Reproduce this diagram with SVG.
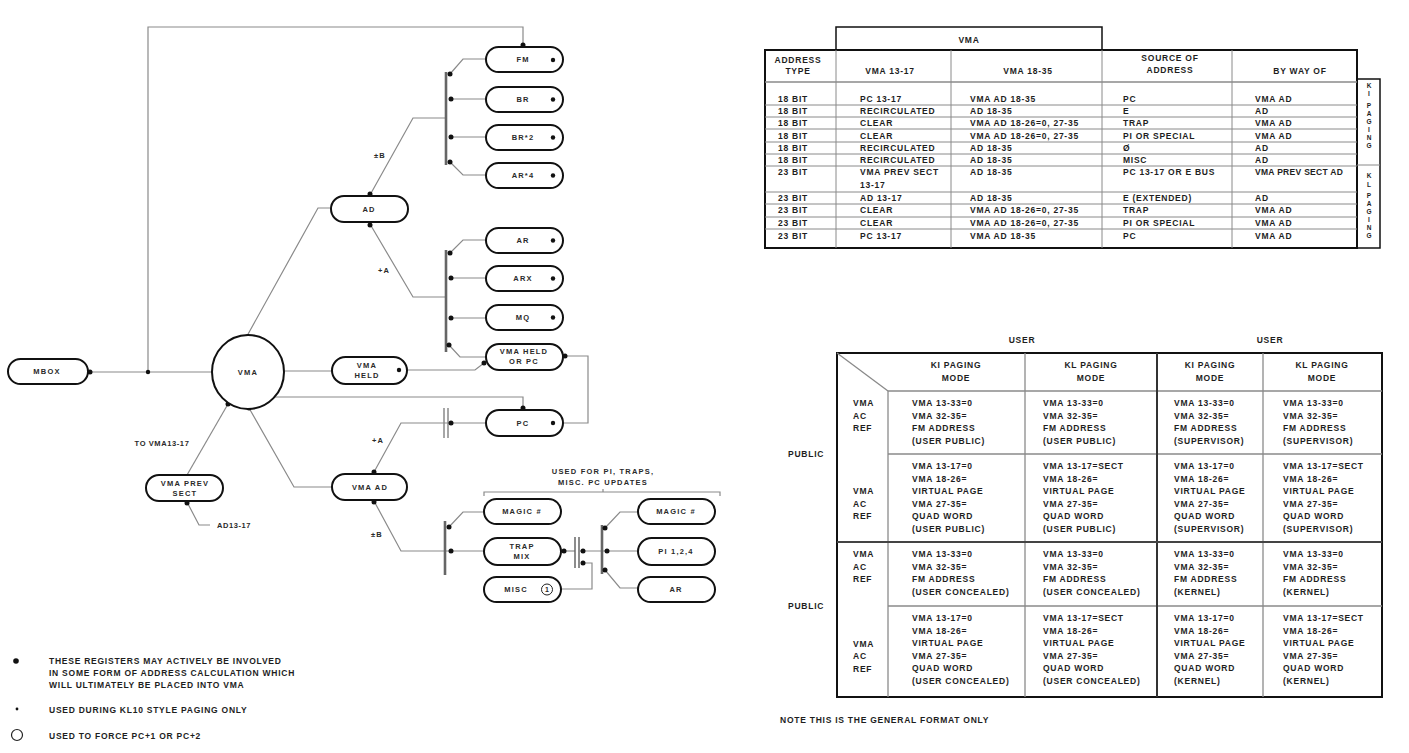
<svg xmlns="http://www.w3.org/2000/svg" width="1409" height="753" viewBox="0 0 1409 753">
<style>
text{font-family:"Liberation Sans",Arial,sans-serif;font-weight:bold;fill:#1e1e1e}
.n{font-size:7.5px;letter-spacing:1.2px;text-anchor:middle;fill:#2a2a2a}
.pill{fill:#fff;stroke:#111;stroke-width:2}
.w{fill:none;stroke:#8a8a8a;stroke-width:1.2}
.bus{stroke:#666;stroke-width:2.6;fill:none}
.d{fill:#111}
.t{font-size:8.5px;letter-spacing:0.75px}
.c{text-anchor:middle}
.g{stroke:#8a8a8a;stroke-width:1;fill:none}
.b{stroke:#111;stroke-width:2;fill:none}
.v{font-size:6.5px;text-anchor:middle}
</style>
<rect width="1409" height="753" fill="#fff"/>

<g id="connectors">
  <path class="w" d="M148,372 V27 H523 V46"/>
  <path class="w" d="M212,372 H88"/>
  <path class="w" d="M284,371 H332"/>
  <path class="w" d="M247,336 L318,208 H331"/>
  <path class="w" d="M370,195 L413,118 H446"/>
  <line class="bus" x1="446" y1="72" x2="446" y2="165"/>
  <path class="w" d="M450,74 L463,59 H486"/>
  <path class="w" d="M450,99 H486"/>
  <path class="w" d="M450,137 H486"/>
  <path class="w" d="M450,162 L463,175 H486"/>
  <path class="w" d="M370,224 L413,297 H446"/>
  <line class="bus" x1="446" y1="250" x2="446" y2="352"/>
  <path class="w" d="M450,253 L463,240 H486"/>
  <path class="w" d="M450,278 H486"/>
  <path class="w" d="M450,318 H486"/>
  <path class="w" d="M449,345 L460,357 H486"/>
  <path class="w" d="M407,370 H475 L484,363"/>
  <path class="w" d="M564,356 H588 V423 H563"/>
  <path class="w" d="M270,397 H523 V409"/>
  <path class="w" d="M486,423 H401 L374,472"/>
  <line class="g" x1="444" y1="408" x2="444" y2="438" style="stroke-width:1.5"/>
  <line class="g" x1="448" y1="408" x2="448" y2="438" style="stroke-width:1.5"/>
  <path class="w" d="M332,487 H294 L249,408"/>
  <path class="w" d="M187,475 L228,404"/>
  <path class="w" d="M187,502 L199,525 H210"/>
  <path class="w" d="M374,501 L401,551 H484"/>
  <line class="bus" x1="445" y1="521" x2="445" y2="575"/>
  <path class="w" d="M449,527 L463,512 H484"/>
  <path class="w" d="M561,551 H575"/>
  <line x1="575" y1="537" x2="575" y2="568" stroke="#666" stroke-width="1.5"/>
  <line x1="579" y1="537" x2="579" y2="568" stroke="#666" stroke-width="1.5"/>
  <path class="w" d="M579,551 H638"/>
  <path class="w" d="M561,589 H592 V563 H583"/>
  <line class="bus" x1="602" y1="525" x2="602" y2="574"/>
  <path class="w" d="M605,528 L620,512 H638"/>
  <path class="w" d="M605,570 L620,588 H638"/>
  <path class="w" d="M484,496 V492 H720 V496 M603,492 V489"/>
  <g class="d">
    <circle cx="523" cy="45" r="2.5"/><circle cx="90" cy="372" r="2.5"/><circle cx="148" cy="372" r="2.2"/>
    <circle cx="247" cy="337" r="2.5"/><circle cx="370" cy="194" r="2.5"/><circle cx="370" cy="225" r="2.5"/>
    <circle cx="450" cy="74" r="2.5"/><circle cx="451" cy="99" r="2.5"/><circle cx="451" cy="137" r="2.5"/><circle cx="450" cy="162" r="2.5"/>
    <circle cx="450" cy="253" r="2.5"/><circle cx="451" cy="278" r="2.5"/><circle cx="451" cy="318" r="2.5"/><circle cx="449" cy="345" r="2.5"/>
    <circle cx="484" cy="363" r="2.5"/><circle cx="565" cy="356" r="2.5"/><circle cx="523" cy="408" r="2.5"/>
    <circle cx="451" cy="423" r="2.5"/><circle cx="374" cy="472" r="2.5"/><circle cx="249" cy="408" r="2.5"/>
    <circle cx="228" cy="404" r="2.5"/><circle cx="187" cy="503" r="2.5"/><circle cx="374" cy="502" r="2.5"/>
    <circle cx="449" cy="527" r="2.5"/><circle cx="451" cy="551" r="2.5"/><circle cx="564" cy="551" r="2.5"/>
    <circle cx="583" cy="551" r="2.5"/><circle cx="583" cy="563" r="2.5"/><circle cx="605" cy="528" r="2.5"/>
    <circle cx="607" cy="551" r="2.5"/><circle cx="605" cy="570" r="2.5"/>
  </g>
  <text class="n" x="380" y="158">±B</text>
  <text class="n" x="384" y="273">+A</text>
  <text class="n" x="378" y="443">+A</text>
  <text class="n" x="377" y="537">±B</text>
  <text class="n" x="162" y="446" style="letter-spacing:0.6px">TO VMA13-17</text>
  <text class="n" x="234" y="528" style="letter-spacing:0.6px">AD13-17</text>
  <text class="n" x="603" y="474">USED FOR PI, TRAPS,</text>
  <text class="n" x="603" y="485">MISC. PC UPDATES</text>
</g>

<g id="n-fm"><rect class="pill" x="486" y="47" width="77" height="25" rx="12.5"/><text class="n" x="523" y="62">FM</text><circle class="d" cx="553" cy="60" r="2.2"/></g>
<g id="n-br"><rect class="pill" x="486" y="87" width="77" height="25" rx="12.5"/><text class="n" x="523" y="102">BR</text><circle class="d" cx="553" cy="99.5" r="2.2"/></g>
<g id="n-br2"><rect class="pill" x="486" y="125" width="77" height="25" rx="12.5"/><text class="n" x="523" y="140">BR*2</text><circle class="d" cx="553" cy="137.5" r="2.2"/></g>
<g id="n-ar4"><rect class="pill" x="486" y="163" width="77" height="25" rx="12.5"/><text class="n" x="523" y="178">AR*4</text><circle class="d" cx="553" cy="175.5" r="2.2"/></g>
<g id="n-ad"><rect class="pill" x="331" y="196" width="77" height="26" rx="13"/><text class="n" x="369" y="212">AD</text></g>
<g id="n-ar"><rect class="pill" x="486" y="228" width="77" height="25" rx="12.5"/><text class="n" x="523" y="243">AR</text><circle class="d" cx="553" cy="240.5" r="2.2"/></g>
<g id="n-arx"><rect class="pill" x="486" y="266" width="77" height="25" rx="12.5"/><text class="n" x="523" y="281">ARX</text><circle class="d" cx="553" cy="278.5" r="2.2"/></g>
<g id="n-mq"><rect class="pill" x="486" y="305" width="77" height="25" rx="12.5"/><text class="n" x="523" y="320">MQ</text><circle class="d" cx="553" cy="317.5" r="2.2"/></g>
<g id="n-vmaheldorpc"><rect class="pill" x="486" y="344" width="77" height="26" rx="13"/><text class="n" x="524" y="354">VMA HELD</text><text class="n" x="524" y="364">OR PC</text></g>
<g id="n-mbox"><rect class="pill" x="8" y="359" width="80" height="25" rx="12.5"/><text class="n" x="47" y="374">MBOX</text></g>
<g id="n-vma"><ellipse cx="248" cy="372" rx="36" ry="37" fill="#fff" stroke="#111" stroke-width="2"/><text class="n" x="248" y="375">VMA</text></g>
<g id="n-vmaheld"><rect class="pill" x="332" y="357" width="75" height="27" rx="13.5"/><text class="n" x="367" y="368">VMA</text><text class="n" x="367" y="378">HELD</text><circle class="d" cx="399" cy="370" r="2.2"/></g>
<g id="n-pc"><rect class="pill" x="486" y="410" width="77" height="26" rx="13"/><text class="n" x="523" y="426">PC</text><circle class="d" cx="553" cy="423" r="2.2"/></g>
<g id="n-vmaad"><rect class="pill" x="332" y="474" width="75" height="26" rx="13"/><text class="n" x="370" y="490">VMA AD</text></g>
<g id="n-vmaprevsect"><rect class="pill" x="146" y="475" width="77" height="26" rx="13"/><text class="n" x="185" y="486">VMA PREV</text><text class="n" x="185" y="496">SECT</text></g>
<g id="n-magic1"><rect class="pill" x="484" y="499" width="77" height="25" rx="12.5"/><text class="n" x="522" y="514">MAGIC #</text></g>
<g id="n-trapmix"><rect class="pill" x="484" y="538" width="77" height="27" rx="13.5"/><text class="n" x="522" y="549">TRAP</text><text class="n" x="522" y="559">MIX</text></g>
<g id="n-misc"><rect class="pill" x="484" y="577" width="77" height="25" rx="12.5"/><text class="n" x="516" y="592">MISC</text><circle cx="547" cy="589.5" r="5.5" fill="none" stroke="#222" stroke-width="1"/><text class="n" x="547" y="592" style="font-size:7px;letter-spacing:0">1</text></g>
<g id="n-magic2"><rect class="pill" x="638" y="499" width="77" height="25" rx="12.5"/><text class="n" x="676" y="514">MAGIC #</text></g>
<g id="n-pi"><rect class="pill" x="638" y="538" width="77" height="27" rx="13.5"/><text class="n" x="676" y="554">PI 1,2,4</text></g>
<g id="n-ar2"><rect class="pill" x="638" y="577" width="77" height="25" rx="12.5"/><text class="n" x="676" y="592">AR</text></g>

<g id="legend">
  <circle class="d" cx="16" cy="661" r="2.8"/>
  <text class="t" x="49" y="664">THESE REGISTERS MAY ACTIVELY BE INVOLVED</text>
  <text class="t" x="49" y="676">IN SOME FORM OF ADDRESS CALCULATION WHICH</text>
  <text class="t" x="49" y="688">WILL ULTIMATELY BE PLACED INTO VMA</text>
  <circle class="d" cx="17" cy="709" r="1.4"/>
  <text class="t" x="49" y="713">USED DURING KL10 STYLE PAGING ONLY</text>
  <circle cx="17" cy="735" r="5.5" fill="none" stroke="#222" stroke-width="1.2"/>
  <text class="t" x="49" y="739">USED TO FORCE PC+1 OR PC+2</text>
</g>

<g id="table-vma">
  <path class="b" d="M836,50 V27 H1102 V50" style="stroke-width:1.5"/>
  <rect class="b" x="765" y="50" width="592" height="198"/>
  <rect class="b" x="1357" y="79" width="23" height="169" style="stroke-width:1.5"/>
  <line class="g" x1="1357" y1="165" x2="1380" y2="165"/>
  <line class="g" x1="765" y1="82" x2="1357" y2="82" style="stroke-width:1.3"/>
  <g class="g">
    <line x1="836" y1="50" x2="836" y2="248"/><line x1="951" y1="50" x2="951" y2="248"/>
    <line x1="1102" y1="50" x2="1102" y2="248"/><line x1="1232" y1="50" x2="1232" y2="248"/>
    <line x1="765" y1="105" x2="1357" y2="105"/><line x1="765" y1="117" x2="1357" y2="117"/>
    <line x1="765" y1="129" x2="1357" y2="129"/><line x1="765" y1="142" x2="1357" y2="142"/>
    <line x1="765" y1="154" x2="1357" y2="154"/><line x1="765" y1="166" x2="1357" y2="166"/>
    <line x1="765" y1="192" x2="1357" y2="192"/><line x1="765" y1="204" x2="1357" y2="204"/>
    <line x1="765" y1="217" x2="1357" y2="217"/><line x1="765" y1="229" x2="1357" y2="229"/>
  </g>
  <text class="t c" x="969" y="43">VMA</text>
  <text class="t c" x="798" y="63">ADDRESS</text>
  <text class="t c" x="798" y="74">TYPE</text>
  <text class="t c" x="890" y="74">VMA 13-17</text>
  <text class="t c" x="1028" y="74">VMA 18-35</text>
  <text class="t c" x="1170" y="61">SOURCE OF</text>
  <text class="t c" x="1170" y="73">ADDRESS</text>
  <text class="t c" x="1300" y="74">BY WAY OF</text>
  <g class="t">
    <text x="778" y="102">18 BIT</text><text x="860" y="102">PC 13-17</text><text x="970" y="102">VMA AD 18-35</text><text x="1123" y="102">PC</text><text x="1255" y="102">VMA AD</text>
    <text x="778" y="114">18 BIT</text><text x="860" y="114">RECIRCULATED</text><text x="970" y="114">AD 18-35</text><text x="1123" y="114">E</text><text x="1255" y="114">AD</text>
    <text x="778" y="126">18 BIT</text><text x="860" y="126">CLEAR</text><text x="970" y="126">VMA AD 18-26=0, 27-35</text><text x="1123" y="126">TRAP</text><text x="1255" y="126">VMA AD</text>
    <text x="778" y="139">18 BIT</text><text x="860" y="139">CLEAR</text><text x="970" y="139">VMA AD 18-26=0, 27-35</text><text x="1123" y="139">PI OR SPECIAL</text><text x="1255" y="139">VMA AD</text>
    <text x="778" y="151">18 BIT</text><text x="860" y="151">RECIRCULATED</text><text x="970" y="151">AD 18-35</text><text x="1123" y="151">Ø</text><text x="1255" y="151">AD</text>
    <text x="778" y="163">18 BIT</text><text x="860" y="163">RECIRCULATED</text><text x="970" y="163">AD 18-35</text><text x="1123" y="163">MISC</text><text x="1255" y="163">AD</text>
    <text x="778" y="175">23 BIT</text><text x="860" y="175">VMA PREV SECT</text><text x="970" y="175">AD 18-35</text><text x="1123" y="175">PC 13-17 OR E BUS</text><text x="1255" y="175" style="letter-spacing:0.3px">VMA PREV SECT AD</text>
    <text x="860" y="188">13-17</text>
    <text x="778" y="201">23 BIT</text><text x="860" y="201">AD 13-17</text><text x="970" y="201">AD 18-35</text><text x="1123" y="201">E (EXTENDED)</text><text x="1255" y="201">AD</text>
    <text x="778" y="213">23 BIT</text><text x="860" y="213">CLEAR</text><text x="970" y="213">VMA AD 18-26=0, 27-35</text><text x="1123" y="213">TRAP</text><text x="1255" y="213">VMA AD</text>
    <text x="778" y="226">23 BIT</text><text x="860" y="226">CLEAR</text><text x="970" y="226">VMA AD 18-26=0, 27-35</text><text x="1123" y="226">PI OR SPECIAL</text><text x="1255" y="226">VMA AD</text>
    <text x="778" y="239">23 BIT</text><text x="860" y="239">PC 13-17</text><text x="970" y="239">VMA AD 18-35</text><text x="1123" y="239">PC</text><text x="1255" y="239">VMA AD</text>
  </g>
  <g class="v">
    <text x="1369" y="88">K</text><text x="1369" y="96">I</text><text x="1369" y="108">P</text><text x="1369" y="116">A</text><text x="1369" y="124">G</text><text x="1369" y="132">I</text><text x="1369" y="140">N</text><text x="1369" y="148">G</text>
    <text x="1369" y="178">K</text><text x="1369" y="187">L</text><text x="1369" y="198">P</text><text x="1369" y="206">A</text><text x="1369" y="214">G</text><text x="1369" y="222">I</text><text x="1369" y="230">N</text><text x="1369" y="238">G</text>
  </g>
</g>

<g id="table-user">
  <text class="t c" x="1022" y="343">USER</text>
  <text class="t c" x="1270" y="343">USER</text>
  <rect class="b" x="837" y="353" width="545" height="344"/>
  <line class="g" x1="837" y1="353" x2="888" y2="391" style="stroke-width:1.3"/>
  <g class="g" style="stroke-width:1.3">
    <line x1="888" y1="391" x2="888" y2="697"/>
    <line x1="888" y1="391" x2="1382" y2="391"/>
    <line x1="1025" y1="353" x2="1025" y2="697"/>
    <line x1="1263" y1="353" x2="1263" y2="697"/>
    <line x1="888" y1="454" x2="1382" y2="454"/>
    <line x1="888" y1="606" x2="1382" y2="606"/>
  </g>
  <line x1="1157" y1="353" x2="1157" y2="697" stroke="#333" stroke-width="2"/>
  <line x1="837" y1="542" x2="1382" y2="542" stroke="#444" stroke-width="1.8"/>
  <text class="t c" x="956" y="368">KI PAGING</text><text class="t c" x="956" y="381">MODE</text>
  <text class="t c" x="1091" y="368">KL PAGING</text><text class="t c" x="1091" y="381">MODE</text>
  <text class="t c" x="1210" y="368">KI PAGING</text><text class="t c" x="1210" y="381">MODE</text>
  <text class="t c" x="1322" y="368">KL PAGING</text><text class="t c" x="1322" y="381">MODE</text>
  <text class="t" x="788" y="457">PUBLIC</text>
  <text class="t" x="788" y="609">PUBLIC</text>
  <g class="t">
    <text x="853" y="406"><tspan x="853">VMA</tspan><tspan x="853" dy="12.5">AC</tspan><tspan x="853" dy="12.5">REF</tspan></text>
    <text x="853" y="494"><tspan x="853">VMA</tspan><tspan x="853" dy="12.6">AC</tspan><tspan x="853" dy="12.6">REF</tspan></text>
    <text x="853" y="557"><tspan x="853">VMA</tspan><tspan x="853" dy="12.5">AC</tspan><tspan x="853" dy="12.5">REF</tspan></text>
    <text x="853" y="646.5"><tspan x="853">VMA</tspan><tspan x="853" dy="12.6">AC</tspan><tspan x="853" dy="12.6">REF</tspan></text>

    <text y="406"><tspan x="912">VMA 13-33=0</tspan><tspan x="912" dy="12.5">VMA 32-35=</tspan><tspan x="912" dy="12.5">FM ADDRESS</tspan><tspan x="912" dy="12.5">(USER PUBLIC)</tspan></text>
    <text y="406"><tspan x="1043">VMA 13-33=0</tspan><tspan x="1043" dy="12.5">VMA 32-35=</tspan><tspan x="1043" dy="12.5">FM ADDRESS</tspan><tspan x="1043" dy="12.5">(USER PUBLIC)</tspan></text>
    <text y="406"><tspan x="1174">VMA 13-33=0</tspan><tspan x="1174" dy="12.5">VMA 32-35=</tspan><tspan x="1174" dy="12.5">FM ADDRESS</tspan><tspan x="1174" dy="12.5">(SUPERVISOR)</tspan></text>
    <text y="406"><tspan x="1283">VMA 13-33=0</tspan><tspan x="1283" dy="12.5">VMA 32-35=</tspan><tspan x="1283" dy="12.5">FM ADDRESS</tspan><tspan x="1283" dy="12.5">(SUPERVISOR)</tspan></text>

    <text y="469"><tspan x="912">VMA 13-17=0</tspan><tspan x="912" dy="12.6">VMA 18-26=</tspan><tspan x="912" dy="12.6">VIRTUAL PAGE</tspan><tspan x="912" dy="12.6">VMA 27-35=</tspan><tspan x="912" dy="12.6">QUAD WORD</tspan><tspan x="912" dy="12.6">(USER PUBLIC)</tspan></text>
    <text y="469"><tspan x="1043">VMA 13-17=SECT</tspan><tspan x="1043" dy="12.6">VMA 18-26=</tspan><tspan x="1043" dy="12.6">VIRTUAL PAGE</tspan><tspan x="1043" dy="12.6">VMA 27-35=</tspan><tspan x="1043" dy="12.6">QUAD WORD</tspan><tspan x="1043" dy="12.6">(USER PUBLIC)</tspan></text>
    <text y="469"><tspan x="1174">VMA 13-17=0</tspan><tspan x="1174" dy="12.6">VMA 18-26=</tspan><tspan x="1174" dy="12.6">VIRTUAL PAGE</tspan><tspan x="1174" dy="12.6">VMA 27-35=</tspan><tspan x="1174" dy="12.6">QUAD WORD</tspan><tspan x="1174" dy="12.6">(SUPERVISOR)</tspan></text>
    <text y="469"><tspan x="1283">VMA 13-17=SECT</tspan><tspan x="1283" dy="12.6">VMA 18-26=</tspan><tspan x="1283" dy="12.6">VIRTUAL PAGE</tspan><tspan x="1283" dy="12.6">VMA 27-35=</tspan><tspan x="1283" dy="12.6">QUAD WORD</tspan><tspan x="1283" dy="12.6">(SUPERVISOR)</tspan></text>

    <text y="557"><tspan x="912">VMA 13-33=0</tspan><tspan x="912" dy="12.5">VMA 32-35=</tspan><tspan x="912" dy="12.5">FM ADDRESS</tspan><tspan x="912" dy="12.5">(USER CONCEALED)</tspan></text>
    <text y="557"><tspan x="1043">VMA 13-33=0</tspan><tspan x="1043" dy="12.5">VMA 32-35=</tspan><tspan x="1043" dy="12.5">FM ADDRESS</tspan><tspan x="1043" dy="12.5">(USER CONCEALED)</tspan></text>
    <text y="557"><tspan x="1174">VMA 13-33=0</tspan><tspan x="1174" dy="12.5">VMA 32-35=</tspan><tspan x="1174" dy="12.5">FM ADDRESS</tspan><tspan x="1174" dy="12.5">(KERNEL)</tspan></text>
    <text y="557"><tspan x="1283">VMA 13-33=0</tspan><tspan x="1283" dy="12.5">VMA 32-35=</tspan><tspan x="1283" dy="12.5">FM ADDRESS</tspan><tspan x="1283" dy="12.5">(KERNEL)</tspan></text>

    <text y="621"><tspan x="912">VMA 13-17=0</tspan><tspan x="912" dy="12.6">VMA 18-26=</tspan><tspan x="912" dy="12.6">VIRTUAL PAGE</tspan><tspan x="912" dy="12.6">VMA 27-35=</tspan><tspan x="912" dy="12.6">QUAD WORD</tspan><tspan x="912" dy="12.6">(USER CONCEALED)</tspan></text>
    <text y="621"><tspan x="1043">VMA 13-17=SECT</tspan><tspan x="1043" dy="12.6">VMA 18-26=</tspan><tspan x="1043" dy="12.6">VIRTUAL PAGE</tspan><tspan x="1043" dy="12.6">VMA 27-35=</tspan><tspan x="1043" dy="12.6">QUAD WORD</tspan><tspan x="1043" dy="12.6">(USER CONCEALED)</tspan></text>
    <text y="621"><tspan x="1174">VMA 13-17=0</tspan><tspan x="1174" dy="12.6">VMA 18-26=</tspan><tspan x="1174" dy="12.6">VIRTUAL PAGE</tspan><tspan x="1174" dy="12.6">VMA 27-35=</tspan><tspan x="1174" dy="12.6">QUAD WORD</tspan><tspan x="1174" dy="12.6">(KERNEL)</tspan></text>
    <text y="621"><tspan x="1283">VMA 13-17=SECT</tspan><tspan x="1283" dy="12.6">VMA 18-26=</tspan><tspan x="1283" dy="12.6">VIRTUAL PAGE</tspan><tspan x="1283" dy="12.6">VMA 27-35=</tspan><tspan x="1283" dy="12.6">QUAD WORD</tspan><tspan x="1283" dy="12.6">(KERNEL)</tspan></text>
  </g>
  <text class="t" x="780" y="723">NOTE   THIS IS THE GENERAL FORMAT ONLY</text>
</g>
</svg>
